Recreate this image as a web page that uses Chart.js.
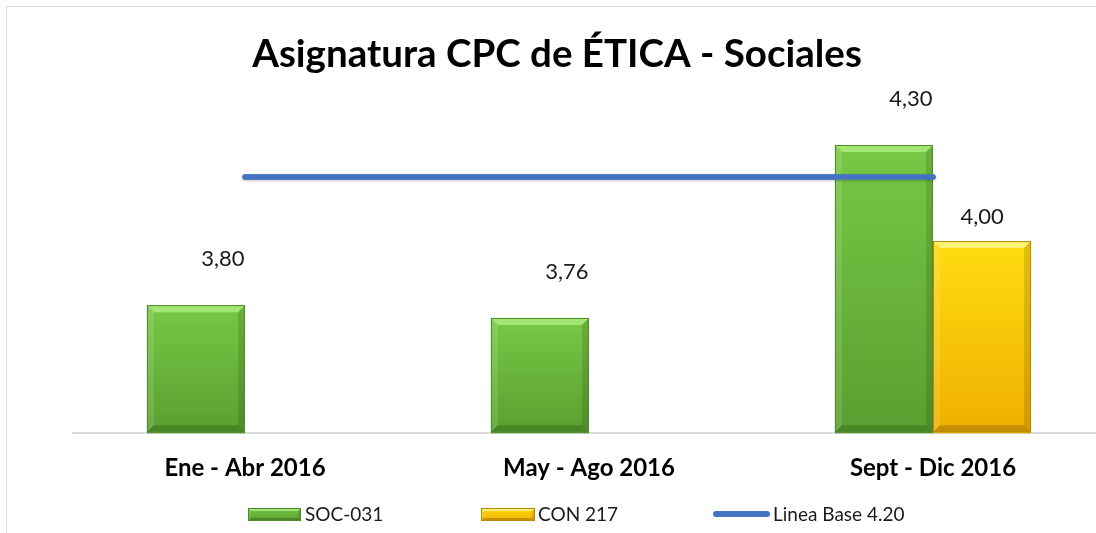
<!DOCTYPE html>
<html>
<head>
<meta charset="utf-8">
<script src="https://cdn.jsdelivr.net/npm/chart.js@4"></script>
<style>
  html, body { margin: 0; padding: 0; background: #fff; overflow: hidden; width: 1096px; height: 533px; }
  #frame { position: absolute; left: 6px; top: 6px; width: 1200px; height: 600px; border: 1px solid #d9d9d9; box-sizing: border-box; }
  #c { position: absolute; left: 0; top: 0; }
</style>
</head>
<body>
<div id="frame"></div>
<canvas id="c" width="1110" height="533"></canvas>
<script>
const title = 'Asignatura CPC de ÉTICA - Sociales';
const categories = ['Ene - Abr 2016', 'May - Ago 2016', 'Sept - Dic 2016'];
const soc031 = [3.80, 3.76, 4.30];
const con217 = [null, null, 4.00];
const lineaBase = [4.20, 4.20, 4.20];
const seriesNames = ['SOC-031', 'CON 217', 'Linea Base 4.20'];

const GREEN = { top: '#78c845', bottom: '#5a9f31', border: '#4d8a2a', hi: 'rgba(200,255,160,0.55)', lo: 'rgba(40,80,20,0.35)' };
const YELLOW = { top: '#ffdc10', bottom: '#eeb000', border: '#b88c00', hi: 'rgba(255,255,190,0.6)', lo: 'rgba(120,80,0,0.35)' };

function bevelRect(ctx, x0, y0, x1, y1, pal, b) {
  const g = ctx.createLinearGradient(0, y0, 0, y1);
  g.addColorStop(0, pal.top);
  g.addColorStop(1, pal.bottom);
  ctx.fillStyle = g;
  ctx.fillRect(x0, y0, x1 - x0, y1 - y0);
  b = Math.min(b, (x1 - x0) / 2, (y1 - y0) / 2);
  ctx.fillStyle = pal.hi;
  ctx.beginPath(); ctx.moveTo(x0, y0); ctx.lineTo(x1, y0); ctx.lineTo(x1 - b, y0 + b); ctx.lineTo(x0 + b, y0 + b); ctx.closePath(); ctx.fill();
  ctx.fillStyle = 'rgba(255,255,255,0.12)';
  ctx.beginPath(); ctx.moveTo(x0, y0); ctx.lineTo(x0 + b, y0 + b); ctx.lineTo(x0 + b, y1 - b); ctx.lineTo(x0, y1); ctx.closePath(); ctx.fill();
  ctx.fillStyle = 'rgba(0,0,0,0.12)';
  ctx.beginPath(); ctx.moveTo(x1, y0); ctx.lineTo(x1 - b, y0 + b); ctx.lineTo(x1 - b, y1 - b); ctx.lineTo(x1, y1); ctx.closePath(); ctx.fill();
  ctx.fillStyle = pal.lo;
  ctx.beginPath(); ctx.moveTo(x0, y1); ctx.lineTo(x1, y1); ctx.lineTo(x1 - b, y1 - b); ctx.lineTo(x0 + b, y1 - b); ctx.closePath(); ctx.fill();
  ctx.strokeStyle = pal.border;
  ctx.lineWidth = 1;
  ctx.strokeRect(x0 + 0.5, y0 + 0.5, x1 - x0 - 1, y1 - y0 - 1);
}

const fmt = v => v.toFixed(2).replace('.', ',');

const decorPlugin = {
  id: 'decor',
  afterDatasetsDraw(chart) {
    const ctx = chart.ctx;
    const area = chart.chartArea;
    ctx.save();
    [0, 1].forEach(di => {
      const meta = chart.getDatasetMeta(di);
      const pal = di === 0 ? GREEN : YELLOW;
      meta.data.forEach((el, i) => {
        const v = chart.data.datasets[di].data[i];
        if (v == null) return;
        const p = el.getProps(['x', 'y', 'base', 'width'], true);
        const base = Math.min(p.base, area.bottom - 1);
        bevelRect(ctx, p.x - p.width / 2, p.y, p.x + p.width / 2, base, pal, 7);
      });
    });
    const lm = chart.getDatasetMeta(2);
    ctx.strokeStyle = '#4472C4';
    ctx.lineWidth = 5.5;
    ctx.lineCap = 'round';
    ctx.shadowColor = 'rgba(0,0,0,0.25)';
    ctx.shadowBlur = 3;
    ctx.shadowOffsetY = 1;
    ctx.beginPath();
    lm.data.forEach((pt, i) => { if (i === 0) ctx.moveTo(pt.x, pt.y); else ctx.lineTo(pt.x, pt.y); });
    ctx.stroke();
    ctx.shadowColor = 'transparent';
    ctx.fillStyle = '#1a1a1a';
    ctx.font = '22px Lato';
    ctx.textAlign = 'center';
    ctx.textBaseline = 'middle';
    [0, 1].forEach(di => {
      const meta = chart.getDatasetMeta(di);
      meta.data.forEach((el, i) => {
        const v = chart.data.datasets[di].data[i];
        if (v == null) return;
        const p = el.getProps(['x', 'y'], true);
        if (di === 0) ctx.fillText(fmt(v), p.x + 27, p.y - 46);
        else ctx.fillText(fmt(v), p.x, p.y - 24);
      });
    });
    ctx.restore();
  },
  afterDraw(chart) {
    const ctx = chart.ctx;
    ctx.save();
    ctx.fillStyle = '#000';
    ctx.font = 'bold 38.5px Lato';
    ctx.textAlign = 'center';
    ctx.textBaseline = 'middle';
    ctx.fillText(title, 557, 55);
    ctx.font = '19px Lato';
    ctx.textAlign = 'left';
    const ly = 514;
    bevelRect(ctx, 248, 508, 301, 521, GREEN, 3);
    bevelRect(ctx, 481, 508, 535, 521, YELLOW, 3);
    ctx.strokeStyle = '#4472C4';
    ctx.lineWidth = 6;
    ctx.lineCap = 'round';
    ctx.beginPath(); ctx.moveTo(716, ly); ctx.lineTo(767, ly); ctx.stroke();
    ctx.fillStyle = '#1a1a1a';
    ctx.fillText(seriesNames[0], 305, ly + 1);
    ctx.fillText(seriesNames[1], 538, ly + 1);
    ctx.fillText(seriesNames[2], 773, ly + 1);
    ctx.restore();
  }
};

new Chart(document.getElementById('c'), {
  type: 'bar',
  data: {
    labels: categories,
    datasets: [
      { label: seriesNames[0], data: soc031, backgroundColor: GREEN.bottom, borderWidth: 0, order: 2 },
      { label: seriesNames[1], data: con217, backgroundColor: YELLOW.bottom, borderWidth: 0, order: 2 },
      { type: 'line', label: seriesNames[2], data: lineaBase, borderColor: '#4472C4', borderWidth: 5, pointRadius: 0, borderCapStyle: 'round', order: 1 }
    ]
  },
  options: {
    responsive: false,
    devicePixelRatio: 1,
    animation: false,
    datasets: { bar: { categoryPercentage: 0.57, barPercentage: 1.0 } },
    layout: { padding: { left: 73, right: 5, top: 81, bottom: 29 } },
    plugins: { legend: { display: false }, title: { display: false }, tooltip: { enabled: false } },
    scales: {
      x: {
        grid: { display: false, drawTicks: false },
        border: { display: true, color: '#d9d9d9', width: 2 },
        ticks: { color: '#000', font: { family: 'Lato', weight: 'bold', size: 24 }, padding: 21, maxRotation: 0 }
      },
      y: { display: false, min: 3.4, max: 4.5 }
    }
  },
  plugins: [decorPlugin]
});
</script>
</body>
</html>
